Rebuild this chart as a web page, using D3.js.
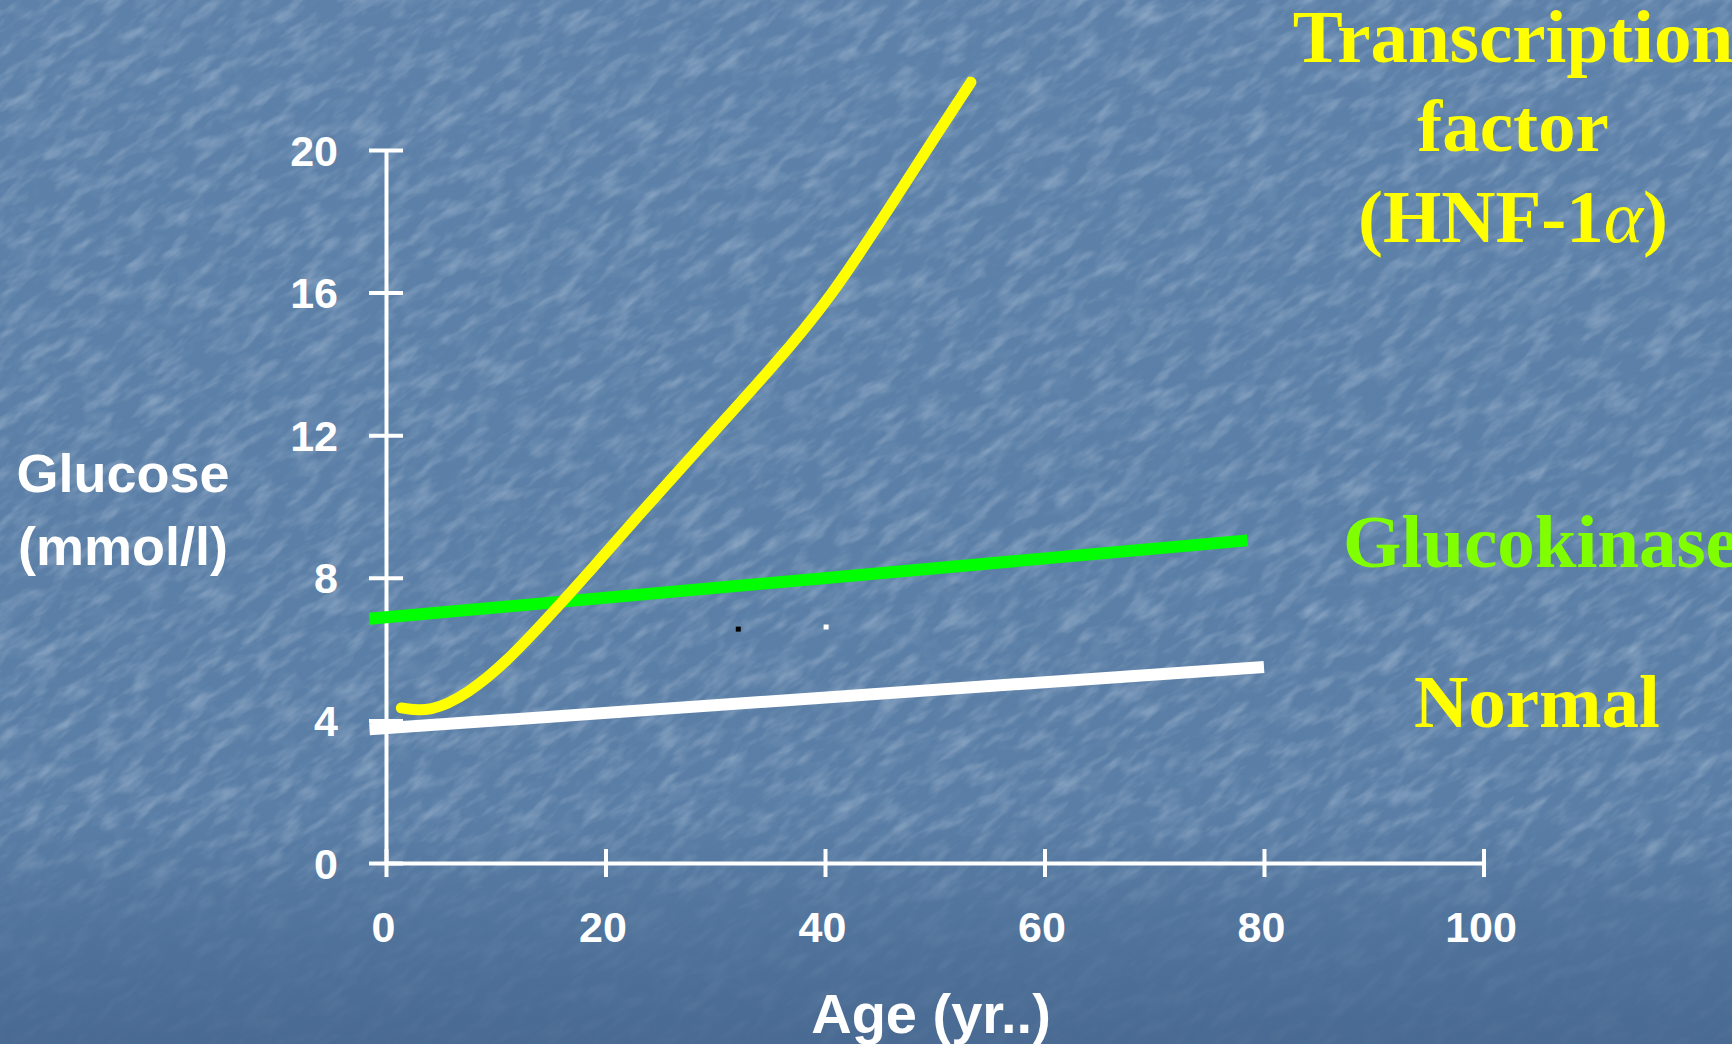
<!DOCTYPE html>
<html>
<head>
<meta charset="utf-8">
<script src="https://cdn.jsdelivr.net/npm/d3@7"></script>
<style>
  body { margin: 0; background: #5a7ea6; }
  svg { display: block; }
</style>
</head>
<body>
<div id="chart"></div>
<script>
// Glucose vs age by MODY type

var xTicks = [0, 20, 40, 60, 80, 100];
var yTicks = [0, 4, 8, 12, 16, 20];

// Normal
var normalAge = [-1.5, 80];
var normalGlucose = [3.75, 5.5];

// Glucokinase
var gckAge = [-1.5, 78.5];
var gckGlucose = [6.85, 9.05];

// Transcription factor (HNF-1a)
var hnfAge = [1.4, 1.4, 4.0, 7.5, 11.0, 14.5, 18.5, 23.0, 29.0, 35.5, 40.5, 45.5, 50.5, 53.3, 53.3];
var hnfGlucose = [4.35, 4.35, 4.22, 4.75, 5.65, 6.8, 8.15, 9.75, 11.8, 14.0, 15.85, 18.2, 20.6, 21.9, 21.9];

// two stray dots left on the slide
var strayAge = [32.1, 40.1];
var strayGlucose = [6.56, 6.62];
var strayColor = ["#000000", "#ffffff"];

var width = 1732, height = 1044;

var svg = d3.select("#chart").append("svg")
  .attr("width", width)
  .attr("height", height);

var defs = svg.append("defs");

// background gradient
var bg = defs.append("linearGradient").attr("id", "bg")
  .attr("x1", 0).attr("y1", 0).attr("x2", 0).attr("y2", 1);
bg.append("stop").attr("offset", "0%").attr("stop-color", "#5d81a9");
bg.append("stop").attr("offset", "78%").attr("stop-color", "#5a7ea6");
bg.append("stop").attr("offset", "88%").attr("stop-color", "#51749c");
bg.append("stop").attr("offset", "100%").attr("stop-color", "#496a92");

// texture fades out near the bottom
var fade = defs.append("linearGradient").attr("id", "fade")
  .attr("gradientUnits", "userSpaceOnUse")
  .attr("x1", 0).attr("y1", 0).attr("x2", 0).attr("y2", height);
fade.append("stop").attr("offset", "0%").attr("stop-color", "#fff");
fade.append("stop").attr("offset", "78%").attr("stop-color", "#fff");
fade.append("stop").attr("offset", "88%").attr("stop-color", "#444");
fade.append("stop").attr("offset", "100%").attr("stop-color", "#222");
defs.append("mask").attr("id", "texmask")
  .attr("maskUnits", "userSpaceOnUse")
  .attr("x", 0).attr("y", 0).attr("width", width).attr("height", height)
  .append("rect").attr("width", width).attr("height", height).attr("fill", "url(#fade)");

var light = defs.append("filter").attr("id", "light")
  .attr("x", 0).attr("y", 0).attr("width", 1).attr("height", 1);
light.append("feTurbulence").attr("type", "fractalNoise")
  .attr("baseFrequency", "0.03 0.085").attr("numOctaves", 3).attr("seed", 7);
light.append("feColorMatrix").attr("type", "matrix")
  .attr("values", "0 0 0 0 0.6  0 0 0 0 0.7  0 0 0 0 0.82  2.0 0 0 0 -0.9");

var dark = defs.append("filter").attr("id", "dark")
  .attr("x", 0).attr("y", 0).attr("width", 1).attr("height", 1);
dark.append("feTurbulence").attr("type", "fractalNoise")
  .attr("baseFrequency", "0.035 0.07").attr("numOctaves", 3).attr("seed", 19);
dark.append("feColorMatrix").attr("type", "matrix")
  .attr("values", "0 0 0 0 0.3  0 0 0 0 0.43  0 0 0 0 0.6  -1.8 0 0 0 0.95");

svg.append("rect").attr("width", width).attr("height", height).attr("fill", "url(#bg)");

var tex = svg.append("g").attr("mask", "url(#texmask)")
  .append("g").attr("transform", "rotate(-35," + width / 2 + "," + height / 2 + ")");
tex.append("rect").attr("x", -500).attr("y", -700).attr("width", 2700).attr("height", 2400)
  .attr("filter", "url(#dark)").attr("opacity", 0.35);
tex.append("rect").attr("x", -500).attr("y", -700).attr("width", 2700).attr("height", 2400)
  .attr("filter", "url(#light)").attr("opacity", 0.4);

// Scales
var x = d3.scaleLinear().domain([0, 100]).range([386, 1483.5]);
var y = d3.scaleLinear().domain([0, 20]).range([863, 150]);

var tickFont = "'Liberation Sans', Arial, sans-serif";

// Axes
var yAxis = d3.axisLeft(y).tickValues(yTicks).tickSizeOuter(0);
var xAxis = d3.axisBottom(x).tickValues(xTicks).tickSizeOuter(0);

var gy = svg.append("g").attr("transform", "translate(" + x(0) + ",0)").call(yAxis);
gy.selectAll(".tick line").attr("x1", -17).attr("x2", 17);
gy.selectAll(".tick text").attr("x", -48).attr("dy", "0.35em");

var gx = svg.append("g").attr("transform", "translate(0," + y(0) + ")").call(xAxis);
gx.selectAll(".tick line").attr("y1", -14).attr("y2", 14);
gx.selectAll(".tick text").attr("x", -3).attr("y", 79).attr("dy", 0);

svg.selectAll(".domain").attr("stroke", "#fff").attr("stroke-width", 4);
svg.selectAll(".tick line").attr("stroke", "#fff").attr("stroke-width", 4);
svg.selectAll(".tick text")
  .attr("fill", "#fff")
  .style("font-family", tickFont)
  .style("font-weight", "bold")
  .style("font-size", "43px");
gy.attr("font-size", null).attr("font-family", null);
gx.attr("font-size", null).attr("font-family", null);

// Lines
var line = d3.line()
  .x(function(d){ return x(d[0]); })
  .y(function(d){ return y(d[1]); });

var smooth = d3.line()
  .curve(d3.curveBasis)
  .x(function(d){ return x(d[0]); })
  .y(function(d){ return y(d[1]); });

svg.append("path")
  .attr("d", line(d3.zip(normalAge, normalGlucose)))
  .attr("fill", "none").attr("stroke", "#ffffff").attr("stroke-width", 12);

svg.append("path")
  .attr("d", line(d3.zip(gckAge, gckGlucose)))
  .attr("fill", "none").attr("stroke", "#00ff00").attr("stroke-width", 12);

svg.append("path")
  .attr("d", smooth(d3.zip(hnfAge, hnfGlucose)))
  .attr("fill", "none").attr("stroke", "#ffff00").attr("stroke-width", 11)
  .attr("stroke-linecap", "round");

svg.selectAll(".stray")
  .data(d3.zip(strayAge, strayGlucose, strayColor)).enter()
  .append("rect")
  .attr("class", "stray")
  .attr("x", function(d){ return x(d[0]) - 2.5; })
  .attr("y", function(d){ return y(d[1]) - 2.5; })
  .attr("width", 5).attr("height", 5)
  .attr("fill", function(d){ return d[2]; });

// Axis titles
svg.append("text")
  .attr("x", 931).attr("y", 1033)
  .attr("text-anchor", "middle")
  .attr("fill", "#fff")
  .style("font-family", tickFont).style("font-weight", "bold").style("font-size", "56px")
  .text("Age (yr..)");

var ylab = svg.append("text")
  .attr("text-anchor", "middle")
  .attr("fill", "#fff")
  .style("font-family", tickFont).style("font-weight", "bold").style("font-size", "54px");
ylab.append("tspan").attr("x", 123).attr("y", 492).text("Glucose");
ylab.append("tspan").attr("x", 123).attr("y", 565).text("(mmol/l)");

// Series labels
var serif = "'Liberation Serif', 'Times New Roman', serif";

var tf = svg.append("text")
  .attr("text-anchor", "middle")
  .attr("fill", "#ffff00")
  .style("font-family", serif).style("font-weight", "bold").style("font-size", "75px");
tf.append("tspan").attr("x", 1513).attr("y", 62).text("Transcription");
tf.append("tspan").attr("x", 1513).attr("y", 151).text("factor");
var l3 = tf.append("tspan").attr("x", 1513).attr("y", 242);
l3.append("tspan").text("(HNF-1");
l3.append("tspan").style("font-style", "italic").style("font-weight", "normal").text("α");
l3.append("tspan").text(")");

svg.append("text")
  .attr("x", 1343).attr("y", 567)
  .attr("fill", "#80ff00")
  .style("font-family", serif).style("font-weight", "bold").style("font-size", "75px")
  .text("Glucokinase");

svg.append("text")
  .attr("x", 1537).attr("y", 727)
  .attr("text-anchor", "middle")
  .attr("fill", "#ffff00")
  .style("font-family", serif).style("font-weight", "bold").style("font-size", "75px")
  .text("Normal");
</script>
</body>
</html>
